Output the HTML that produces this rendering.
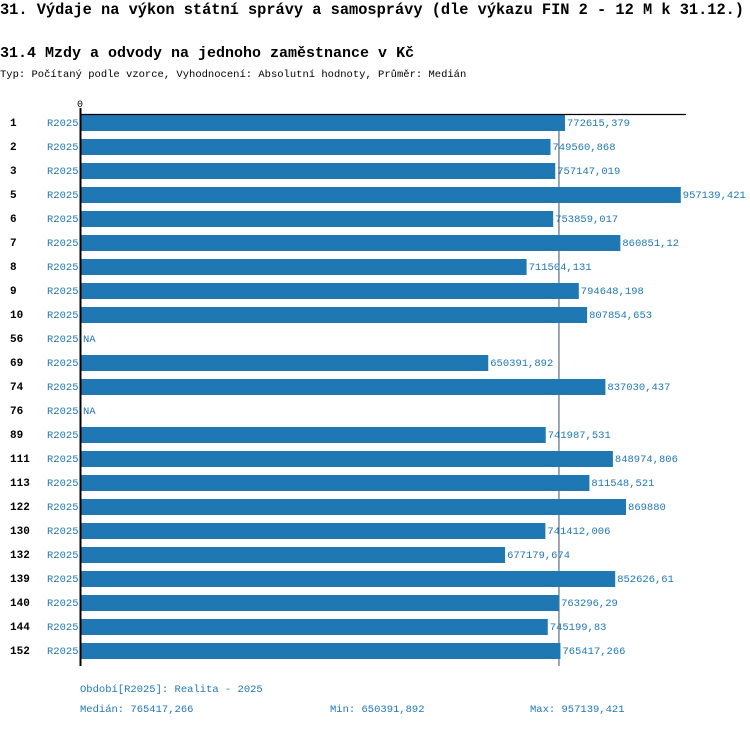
<!DOCTYPE html>
<html><head><meta charset="utf-8"><style>
body{margin:0;background:#fff;width:750px;height:726px;overflow:hidden;font-family:"Liberation Mono","DejaVu Sans Mono",monospace}
</style></head><body>
<svg width="750" height="726" xmlns="http://www.w3.org/2000/svg" font-family="Liberation Mono, DejaVu Sans Mono, monospace">
<text x="0" y="14" font-size="15.4" font-weight="bold" fill="#000" textLength="744" lengthAdjust="spacingAndGlyphs">31. Výdaje na výkon státní správy a samosprávy (dle výkazu FIN 2 - 12 M k 31.12.)</text>
<text x="0" y="57" font-size="15" font-weight="bold" fill="#000">31.4 Mzdy a odvody na jednoho zaměstnance v Kč</text>
<text x="0" y="77" font-size="10.5" fill="#000">Typ: Počítaný podle vzorce, Vyhodnocení: Absolutní hodnoty, Průměr: Medián</text>
<text x="77" y="107" font-size="10" fill="#000">0</text>
<line id="med" x1="559.5" y1="114" x2="559.5" y2="666" stroke="#36506a" stroke-width="1"/>
<g id="bars"></g>
<line x1="80" y1="114.5" x2="686" y2="114.5" stroke="#000" stroke-width="1.2"/>
<line x1="80.5" y1="108" x2="80.5" y2="666" stroke="#000" stroke-width="2"/>
<text x="80" y="692" font-size="10.5" fill="#1f77b4">Období[R2025]: Realita - 2025</text>
<text x="80" y="712" font-size="10.5" fill="#1f77b4">Medián: 765417,266</text>
<text x="330" y="712" font-size="10.5" fill="#1f77b4">Min: 650391,892</text>
<text x="530" y="712" font-size="10.5" fill="#1f77b4">Max: 957139,421</text>
</svg>
<script>
const categories=["1","2","3","5","6","7","8","9","10","56","69","74","76","89","111","113","122","130","132","139","140","144","152"];
const values=[772615.379,749560.868,757147.019,957139.421,753859.017,860851.12,711504.131,794648.198,807854.653,null,650391.892,837030.437,null,741987.531,848974.806,811548.521,869880,741412.006,677179.674,852626.61,763296.29,745199.83,765417.266];
const valueLabels=["772615,379","749560,868","757147,019","957139,421","753859,017","860851,12","711504,131","794648,198","807854,653","NA","650391,892","837030,437","NA","741987,531","848974,806","811548,521","869880","741412,006","677179,674","852626,61","763296,29","745199,83","765417,266"];
const median=765417.266;
const NS="http://www.w3.org/2000/svg";
function xs(v){return 80+v*6.277e-4;}
function ys(i){return 122+i*24;}
const g=document.getElementById('bars');
document.getElementById('med').setAttribute('x1',xs(median)-1.5);
document.getElementById('med').setAttribute('x2',xs(median)-1.5);
categories.forEach((c,i)=>{
  const y=ys(i);
  const t=document.createElementNS(NS,'text');
  
  
  t.setAttribute('x',10);t.setAttribute('y',y+4);t.setAttribute('font-size','11');t.setAttribute('font-weight','bold');t.textContent=c;g.appendChild(t);
  const p=document.createElementNS(NS,'text');
  
  
  p.setAttribute('x',47);p.setAttribute('y',y+4);p.setAttribute('font-size','10.5');p.setAttribute('fill','#1f77b4');p.textContent='R2025';g.appendChild(p);
  const v=values[i];
  let end=81;
  if(v!==null){
    const r=document.createElementNS(NS,'rect');
    
    
    r.setAttribute('x',80);r.setAttribute('y',y-7);r.setAttribute('width',xs(v)-80);r.setAttribute('height',16);r.setAttribute('fill','#1f77b4');g.appendChild(r);
    end=xs(v);
  }
  const l=document.createElementNS(NS,'text');
  
  
  l.setAttribute('x',end+2);l.setAttribute('y',y+4);l.setAttribute('font-size','10.5');l.setAttribute('fill','#1f77b4');l.textContent=valueLabels[i];g.appendChild(l);
});
</script>
</body></html>
